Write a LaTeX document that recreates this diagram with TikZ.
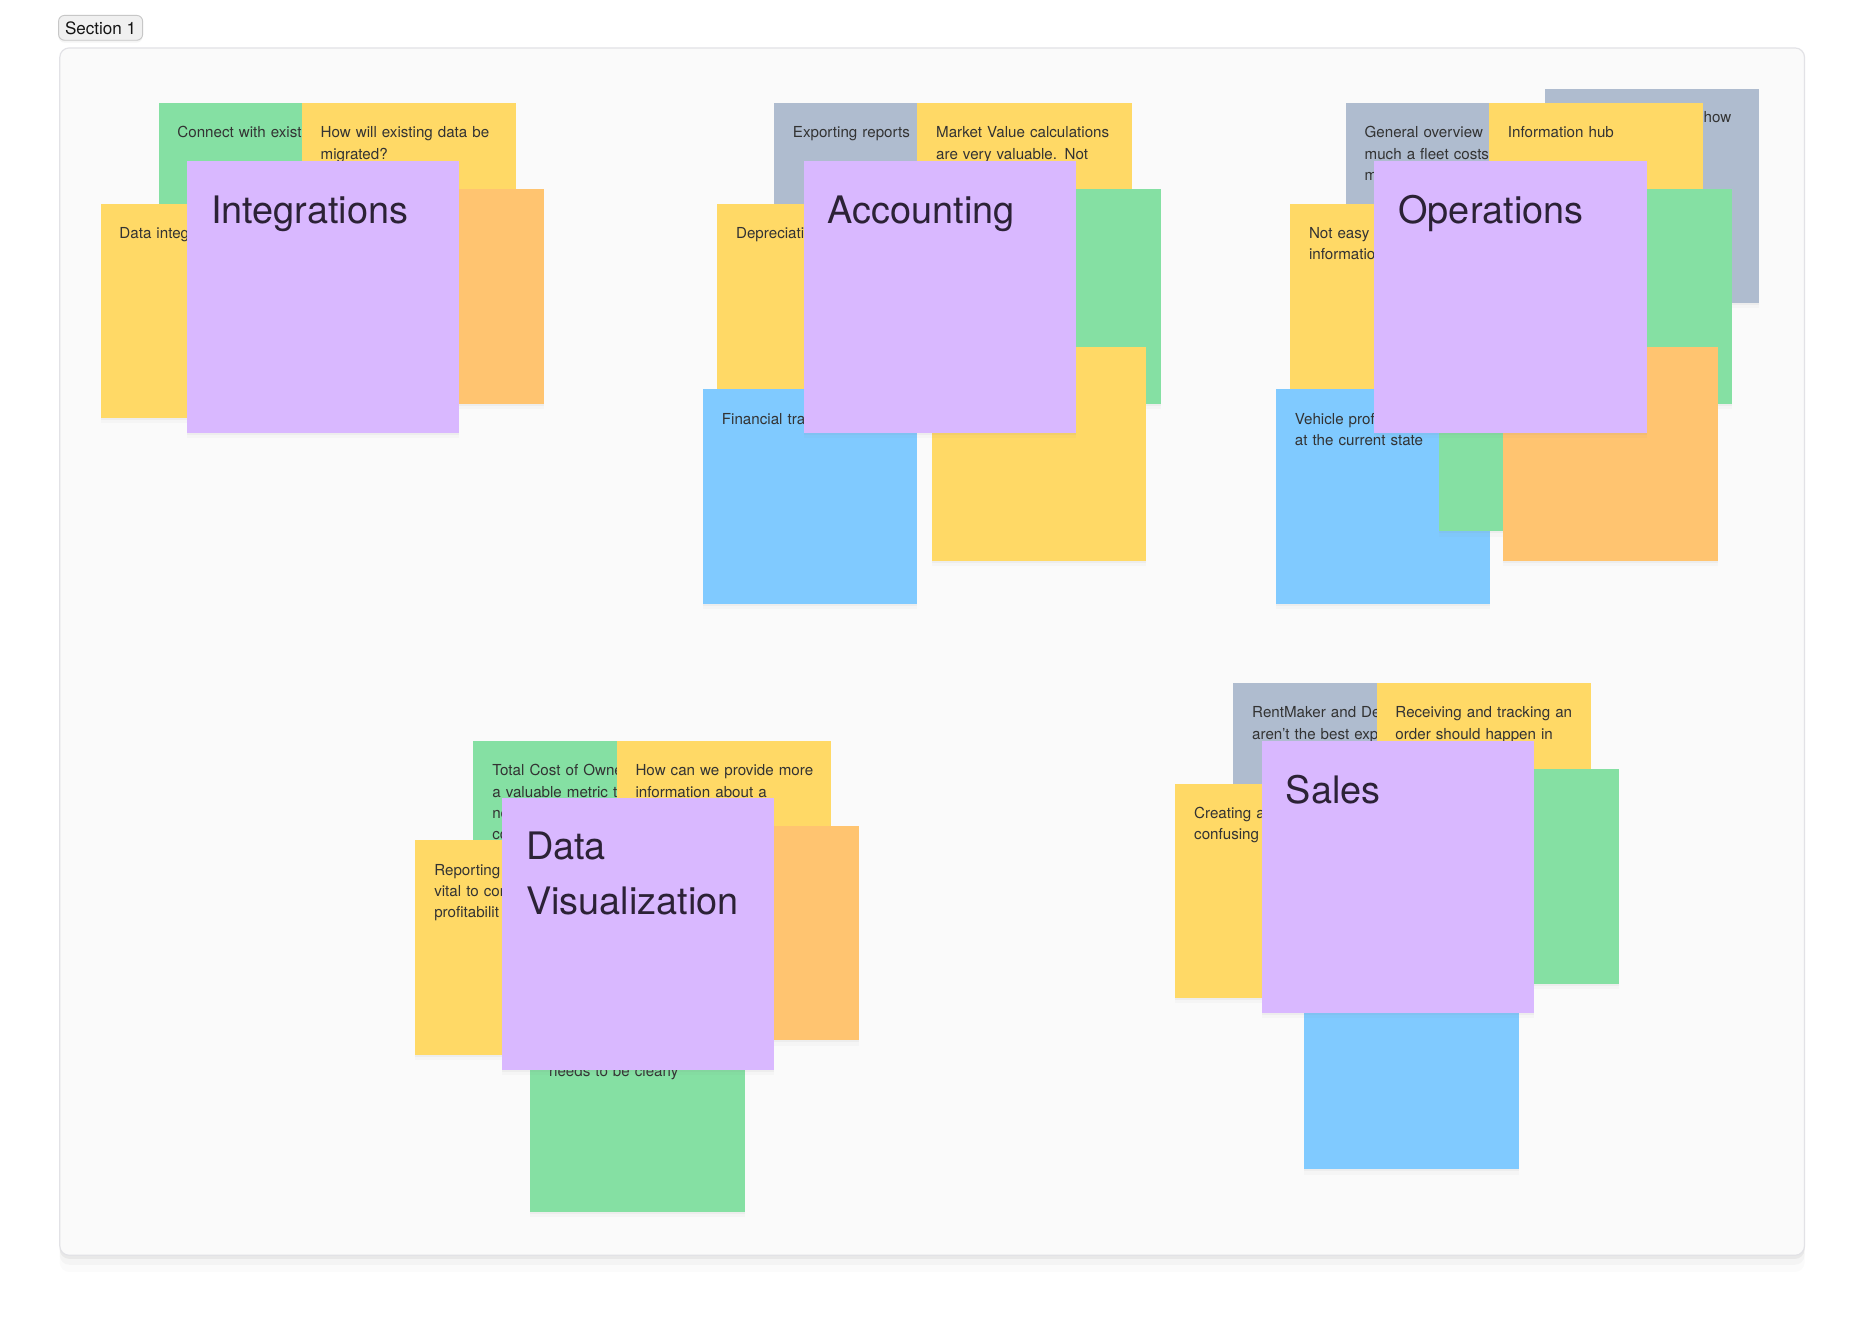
\documentclass[tikz,border=0pt]{standalone}
\usepackage{fontspec}
\setmainfont{TeX Gyre Heros}
\usepackage{tikz}
\usetikzlibrary{
    positioning,
    calc,
    shadows
}
\definecolor{stYellow}{RGB}{255,217,102}
\definecolor{stGreen}{RGB}{133,224,163}
\definecolor{stOrange}{RGB}{255,196,112}
\definecolor{stBlue}{RGB}{128,202,255}
\definecolor{stViolet}{RGB}{217,184,255}
\definecolor{stSlate}{RGB}{175,188,207}
\definecolor{stInk}{RGB}{44,34,54}
\definecolor{boardFill}{RGB}{250,250,250}
\definecolor{boardLine}{RGB}{226,226,230}
\tikzset{
  softshadow/.style = {drop shadow={shadow xshift=0pt, shadow yshift=-0.8pt, opacity=0.06},
                       drop shadow={shadow xshift=0pt, shadow yshift=-2.2pt, opacity=0.04}},
  sticky/.style  = {anchor=north west, minimum width=90.5pt, minimum height=90.5pt,
                    inner sep=0pt, outer sep=0pt, softshadow},
  topic/.style   = {sticky, fill=stViolet, minimum width=115pt, minimum height=115pt},
  memo/.style    = {anchor=base west, inner sep=0pt, text width=80pt, align=left,
                    font=\fontsize{6.4}{9}\selectfont, text=black!80},
  heading/.style = {anchor=base west, inner sep=0pt, text width=100pt, align=left,
                    font=\fontsize{16}{23.25}\selectfont, text=stInk},
  board/.style   = {anchor=north west, fill=boardFill, draw=boardLine, line width=0.5pt,
                    rounded corners=4pt, minimum width=737pt, minimum height=510pt,
                    drop shadow={shadow xshift=0pt, shadow yshift=-1.5pt, opacity=0.10},
                    drop shadow={shadow xshift=0pt, shadow yshift=-4pt, opacity=0.05},
                    drop shadow={shadow xshift=0pt, shadow yshift=-7pt, opacity=0.03}},
  tag/.style     = {fill=black!6, draw=black!22, line width=0.4pt, rounded corners=2.5pt,
                    minimum width=35.5pt, minimum height=10.5pt, inner sep=0pt,
                    font=\fontsize{7.2}{8}\selectfont, text=black!92,
                    drop shadow={shadow xshift=0pt, shadow yshift=-1pt, opacity=0.08}}
}
% one sticky note: name, x, y, colour, text
\newcommand{\stickynote}[5]{%
  \node[sticky, fill=#4] (#1) at (#2,#3) {};
  \node[memo] (#1-txt) at ($(#1.north west)+(15.5,29.5)$) {#5};
}
% the violet heading note: name, x, y, text
\newcommand{\topicnote}[4]{%
  \node[topic] (#1) at (#2,#3) {};
  \node[heading] (#1-txt) at ($(#1.north west)+(20,52.5)$) {#4};
}

\begin{document}
\begin{tikzpicture}[x=0.5pt, y=-0.5pt]
\fill[white] (0,0) rectangle (1568,1113);
\useasboundingbox (0,0) rectangle (1568,1113);

\node[board] (sec) at (50,40) {};
\node[tag] (sec-tag) at (85,23.5) {Section 1};

% Integrations
\stickynote{int-g1}{134}{87}{stGreen}{Connect with exist}
\stickynote{int-y1}{255}{87}{stYellow}{How will existing data be\\migrated?}
\stickynote{int-y2}{85}{172}{stYellow}{Data integ}
\stickynote{int-o1}{279}{160}{stOrange}{}
\topicnote{int}{158}{136}{Integrations}

% Accounting
\stickynote{acc-s1}{654}{87}{stSlate}{Exporting reports}
\stickynote{acc-y1}{775}{87}{stYellow}{Market Value calculations\\are very valuable. Not}
\stickynote{acc-y2}{606}{172}{stYellow}{Depreciati}
\stickynote{acc-g1}{800}{160}{stGreen}{}
\stickynote{acc-b1}{594}{329}{stBlue}{Financial tra}
\stickynote{acc-y3}{787}{293}{stYellow}{}
\topicnote{acc}{679}{136}{Accounting}

% Operations
\stickynote{ops-s1}{1305}{75}{stSlate}{}
\node[memo, anchor=base east, align=right] (ops-s1-txt) at (1463,103.5) {how};
\stickynote{ops-s2}{1137}{87}{stSlate}{General overview\\much a fleet costs\\m}
\stickynote{ops-y1}{1258}{87}{stYellow}{Information hub}
\stickynote{ops-y2}{1090}{172}{stYellow}{Not easy t\\informatio}
\stickynote{ops-g1}{1282}{160}{stGreen}{}
\stickynote{ops-b1}{1078}{329}{stBlue}{Vehicle profi\\at the current state}
\stickynote{ops-g2}{1216}{268}{stGreen}{}
\stickynote{ops-o1}{1270}{293}{stOrange}{}
\topicnote{ops}{1161}{136}{Operations}

% Data Visualization
\stickynote{viz-g1}{400}{626}{stGreen}{Total Cost of Owne\\a valuable metric th\\ne\\co}
\stickynote{viz-y1}{521}{626}{stYellow}{How can we provide more\\information about a}
\stickynote{viz-y2}{351}{710}{stYellow}{Reporting\\vital to cor\\profitabilit}
\stickynote{viz-o1}{545}{698}{stOrange}{}
\stickynote{viz-g2}{448}{843}{stGreen}{}
\node[memo] (viz-g2-txt) at ($(viz-g2.north west)+(15.5,66.5)$) {needs to be clearly};
\topicnote{viz}{424}{674}{Data\\Visualization}

% Sales
\stickynote{sal-s1}{1042}{577}{stSlate}{RentMaker and De\\aren’t the best exp}
\stickynote{sal-y1}{1163}{577}{stYellow}{Receiving and tracking an\\order should happen in}
\stickynote{sal-y2}{993}{662}{stYellow}{Creating a\\confusing}
\stickynote{sal-g1}{1187}{650}{stGreen}{}
\stickynote{sal-b1}{1102}{807}{stBlue}{}
\topicnote{sal}{1066}{626}{Sales}
\end{tikzpicture}
\end{document}
